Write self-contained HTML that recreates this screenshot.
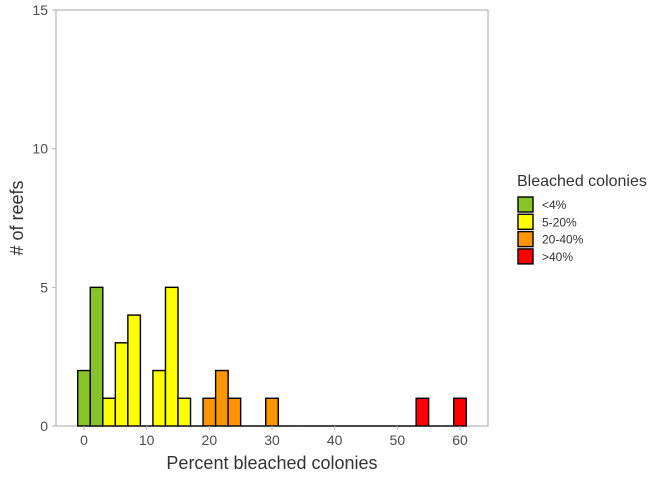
<!DOCTYPE html>
<html><head><meta charset="utf-8"><style>
body{margin:0;background:#fff;font-family:"Liberation Sans",sans-serif}
svg text{font-family:"Liberation Sans",sans-serif}
</style></head><body>
<svg width="672" height="480">
<g id="plot"></g>
</svg>
<script>
const binCenters=[0,2,4,6,8,10,12,14,16,18,20,22,24,26,28,30,32,34,36,38,40,42,44,46,48,50,52,54,56,58,60];
const counts=[2,5,1,3,4,0,2,5,1,0,1,2,1,0,0,1,0,0,0,0,0,0,0,0,0,0,0,1,0,0,1];
const categories=["<4%","5-20%","20-40%",">40%"];
const catColors=["#88c425","#ffff00","#ff9500","#ff0000"];
const xTicks=[0,10,20,30,40,50,60];
const yTicks=[0,5,10,15];
const binWidth=2;
const L=56,R=488,T=10,B=426;
const xs=v=>84+v*(460-84)/60;
const ys=v=>B-v*(B-T)/15;
const ns="http://www.w3.org/2000/svg";
const g=document.getElementById('plot');
function el(t,a,txt){const e=document.createElementNS(ns,t);for(const k in a)e.setAttribute(k,a[k]);if(txt!=null)e.textContent=txt;g.appendChild(e);return e;}
function cat(v){return v<4?0:v<20?1:v<40?2:3;}
let p=el('rect',{x:L,y:T,width:R-L,height:B-T,fill:'#fff',stroke:'#b3b3b3','stroke-width':1.2});

binCenters.forEach((c,i)=>{
 const x0=xs(c-binWidth/2),x1=xs(c+binWidth/2);
 if(counts[i]===0){
  const z=el('line',{x1:x0,x2:x1,y1:ys(0),y2:ys(0),stroke:'#000','stroke-width':1.4});
  
  
  return;
 }
 const r=el('rect',{x:x0,y:ys(counts[i]),width:x1-x0,height:ys(0)-ys(counts[i]),fill:catColors[cat(c)],stroke:'#000','stroke-width':1.4});
 
 
});
yTicks.forEach(v=>{
 const l=el('line',{x1:L-4,x2:L,y1:ys(v),y2:ys(v),stroke:'#b3b3b3'});
 
 const t=el('text',{x:L-8,y:ys(v)+5,'text-anchor':'end','font-size':14,fill:'#4d4d4d'},v);
 
});
xTicks.forEach(v=>{
 const l=el('line',{x1:xs(v),x2:xs(v),y1:B,y2:B+4,stroke:'#b3b3b3'});
 
 const t=el('text',{x:xs(v),y:B+19,'text-anchor':'middle','font-size':14,fill:'#4d4d4d'},v);
 
});
let xt=el('text',{x:(L+R)/2,y:469,'text-anchor':'middle','font-size':18,fill:'#333'},'Percent bleached colonies');

let yt=el('text',{x:23,y:218,'text-anchor':'middle','font-size':18,fill:'#333',transform:'rotate(-90 23 218)'},'# of reefs');

let lt=el('text',{x:517,y:186,'font-size':16,fill:'#333'},'Bleached colonies');

categories.forEach((c,i)=>{
 const y=197+i*17.3;
 const r=el('rect',{x:518,y:y,width:15,height:15,fill:catColors[i],stroke:'#000','stroke-width':1.4});
 
 const t=el('text',{x:542,y:y+12,'font-size':12,fill:'#333'},c);
 
});
</script>
</body></html>
